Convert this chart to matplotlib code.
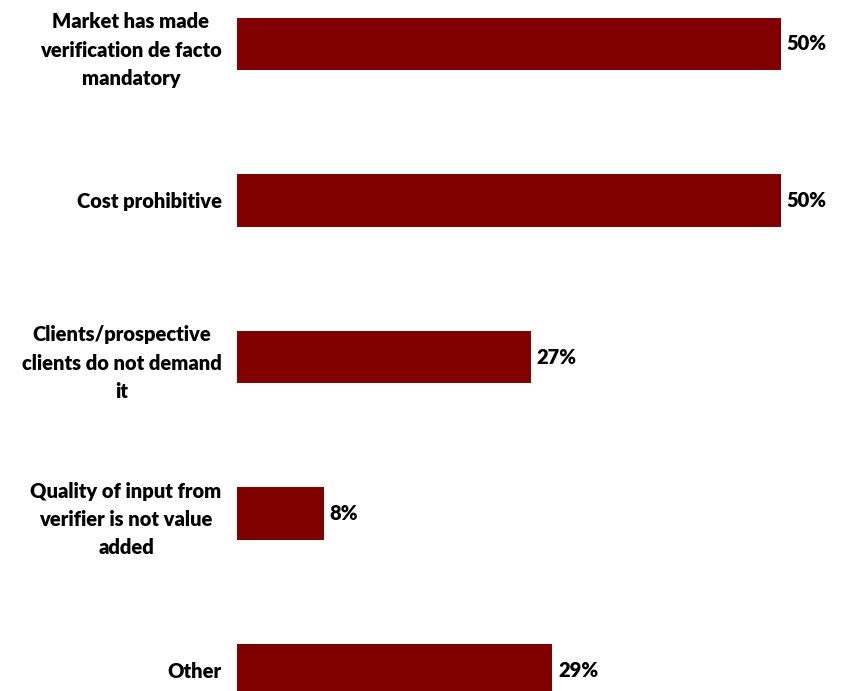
import matplotlib.pyplot as plt

categories = [
    "Market has made\nverification de facto\nmandatory",
    "Cost prohibitive",
    "Clients/prospective\nclients do not demand\nit",
    "Quality of input from\nverifier is not value\nadded",
    "Other",
]
values = [50, 50, 27, 8, 29]

plt.rcParams['font.family'] = ['Lato', 'DejaVu Sans']

fig = plt.figure(figsize=(8.46, 6.91), dpi=100)
ax = fig.add_axes([237 / 846, 0, 609 / 846, 1])

positions = list(range(len(categories)))
bars = ax.barh(positions, values, height=0.333, color='#800000')

ax.set_xlim(0, 56)
ax.set_ylim(4.134, -0.281)

ax.set_yticks(positions)
ax.set_yticklabels(categories, fontsize=14.5, fontweight='heavy',
                   multialignment='center', linespacing=1.58)
ax.tick_params(axis='y', length=0, pad=11)
ax.set_xticks([])

for side in ax.spines.values():
    side.set_visible(False)

ax.bar_label(bars, labels=[f"{v}%" for v in values], padding=4,
             fontsize=14.5, fontweight='heavy')

fig.savefig('out.png', dpi=100)
